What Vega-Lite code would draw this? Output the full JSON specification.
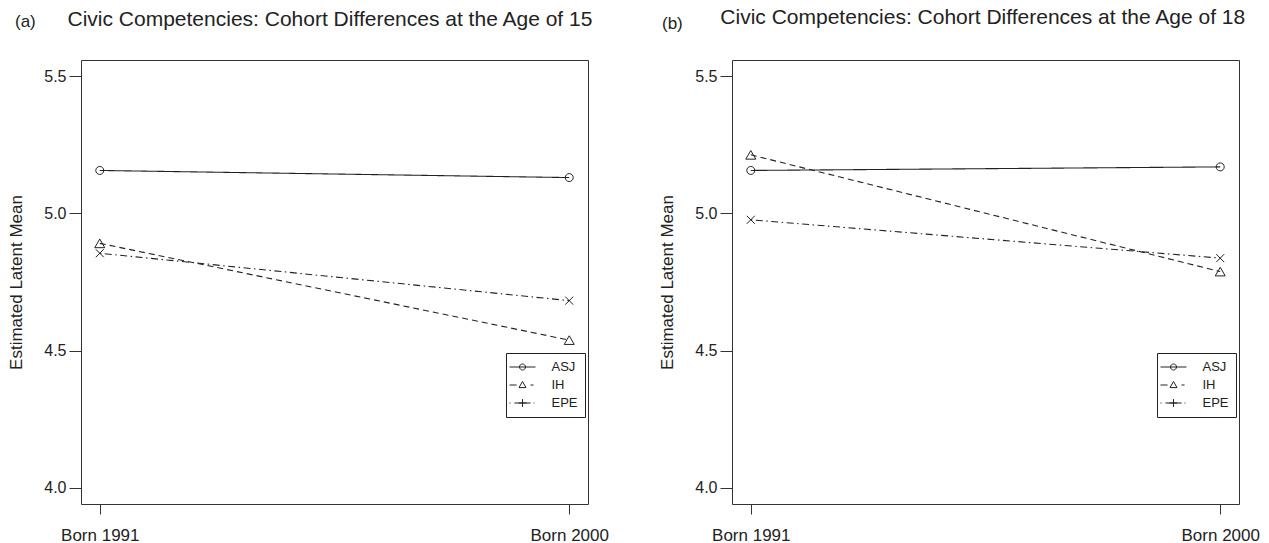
{
  "$schema": "https://vega.github.io/schema/vega-lite/v6.json",
  "padding": {"left": 7, "top": 6, "right": 0, "bottom": 0},
  "background": "white",
  "config": {
    "font": "Liberation Sans",
    "view": {"stroke": "#333", "strokeWidth": 1},
    "axis": {"grid": false, "domain": false, "tickColor": "#333", "labelColor": "#222", "titleColor": "#222", "titleFontWeight": "normal"}
  },
  "datasets": {
    "civic": [
      {"panel": "a", "cohort": "Born 1991", "measure": "ASJ", "mean": 5.157},
      {"panel": "a", "cohort": "Born 2000", "measure": "ASJ", "mean": 5.131},
      {"panel": "a", "cohort": "Born 1991", "measure": "IH", "mean": 4.891},
      {"panel": "a", "cohort": "Born 2000", "measure": "IH", "mean": 4.538},
      {"panel": "a", "cohort": "Born 1991", "measure": "EPE", "mean": 4.855},
      {"panel": "a", "cohort": "Born 2000", "measure": "EPE", "mean": 4.682},
      {"panel": "b", "cohort": "Born 1991", "measure": "ASJ", "mean": 5.157},
      {"panel": "b", "cohort": "Born 2000", "measure": "ASJ", "mean": 5.170},
      {"panel": "b", "cohort": "Born 1991", "measure": "IH", "mean": 5.214},
      {"panel": "b", "cohort": "Born 2000", "measure": "IH", "mean": 4.788},
      {"panel": "b", "cohort": "Born 1991", "measure": "EPE", "mean": 4.977},
      {"panel": "b", "cohort": "Born 2000", "measure": "EPE", "mean": 4.837}
    ]
  },
  "spacing": 49,
  "resolve": {"scale": {"shape": "independent", "strokeDash": "independent"}, "legend": {"shape": "independent", "strokeDash": "independent"}},
  "hconcat": [
    {
      "width": 507, "height": 444,
      "data": {"name": "civic"},
      "transform": [{"filter": "datum.panel === 'a'"}],
      "title": {
        "text": "\u200b\u00a0\u00a0\u00a0\u00a0\u00a0\u00a0\u00a0\u00a0\u00a0Civic Competencies: Cohort Differences at the Age of 15",
        "subtitle": "(a)", "anchor": "start", "frame": "group", "dx": -66,
        "fontSize": 21, "fontWeight": "normal", "color": "#222",
        "subtitleFontSize": 17, "subtitleColor": "#222", "subtitlePadding": -16, "offset": 30
      },
      "encoding": {
        "x": {"field": "cohort", "type": "ordinal", "sort": ["Born 1991", "Born 2000"],
              "scale": {"type": "point", "padding": 0.04},
              "axis": {"title": null, "labelAngle": 0, "labelFontSize": 17, "tickSize": 10, "labelPadding": 13}},
        "y": {"field": "mean", "type": "quantitative",
              "scale": {"domain": [3.94, 5.56], "nice": false, "zero": false},
              "axis": {"values": [4.0, 4.5, 5.0, 5.5], "format": ".1f", "labelFontSize": 16, "tickSize": 12, "labelPadding": 3,
                       "title": "Estimated Latent Mean", "titleFontSize": 17, "titlePadding": 18}}
      },
      "resolve": {"scale": {"shape": "independent"}, "legend": {"shape": "independent"}},
      "layer": [
        {
          "mark": {"type": "line", "stroke": "#222", "strokeWidth": 1.1},
          "encoding": {
            "detail": {"field": "measure"},
            "strokeDash": {"field": "measure", "type": "nominal", "legend": null,
                           "scale": {"range": [[1, 0], [1.5, 3.5, 7, 3.5], [6, 4]]}}
          }
        },
        {
          "mark": {"type": "point", "filled": false, "stroke": "#222", "strokeWidth": 1, "size": 100, "opacity": 1},
          "encoding": {
            "shape": {"field": "measure", "type": "nominal", "legend": null,
                      "scale": {"range": ["M0.8,0A0.8,0.8 0 1,1 -0.8,0A0.8,0.8 0 1,1 0.8,0", "M-0.8,-0.8L0.8,0.8M-0.8,0.8L0.8,-0.8", "triangle-up"]}}
          }
        },
        {
          "mark": {"type": "point", "filled": false, "stroke": "#222", "strokeWidth": 1, "size": 169, "opacity": 0},
          "encoding": {
            "shape": {"field": "measure", "type": "nominal",
                      "scale": {"domain": ["ASJ", "IH", "EPE"],
                                "range": ["M-2,0L2,0M0.46,0A0.46,0.46 0 1,1 -0.46,0A0.46,0.46 0 1,1 0.46,0", "M-2,0L-0.92,0M1.24,0L1.7,0M0,-0.54L0.54,0.4L-0.54,0.4Z", "M-2,0L-1.84,0M-1.24,0L1.24,0M1.7,0L1.84,0M-0.6,0L0.6,0M0,-0.6L0,0.6"]},
                      "legend": {"title": null, "orient": "none", "legendX": 425, "legendY": 293, "padding": 7, "rowPadding": 4,
                                 "fillColor": "white", "strokeColor": "#222", "labelFontSize": 13, "labelColor": "#222",
                                 "symbolSize": 169, "symbolOffset": 2.5, "labelOffset": 22, "symbolStrokeWidth": 1, "symbolStrokeColor": "#222", "symbolFillColor": "transparent", "symbolOpacity": 1, "cornerRadius": 0}}
          }
        }
      ]
    },
    {
      "width": 507, "height": 444,
      "data": {"name": "civic"},
      "transform": [{"filter": "datum.panel === 'b'"}],
      "title": {
        "text": "\u200b\u00a0\u00a0\u00a0\u00a0\u00a0\u00a0\u00a0\u00a0\u00a0\u00a0Civic Competencies: Cohort Differences at the Age of 18",
        "subtitle": "(b)", "anchor": "start", "frame": "group", "dx": -70,
        "fontSize": 21, "fontWeight": "normal", "color": "#222",
        "subtitleFontSize": 17, "subtitleColor": "#222", "subtitlePadding": -12, "offset": 28
      },
      "encoding": {
        "x": {"field": "cohort", "type": "ordinal", "sort": ["Born 1991", "Born 2000"],
              "scale": {"type": "point", "padding": 0.04},
              "axis": {"title": null, "labelAngle": 0, "labelFontSize": 17, "tickSize": 10, "labelPadding": 13}},
        "y": {"field": "mean", "type": "quantitative",
              "scale": {"domain": [3.94, 5.56], "nice": false, "zero": false},
              "axis": {"values": [4.0, 4.5, 5.0, 5.5], "format": ".1f", "labelFontSize": 16, "tickSize": 12, "labelPadding": 3,
                       "title": "Estimated Latent Mean", "titleFontSize": 17, "titlePadding": 18}}
      },
      "resolve": {"scale": {"shape": "independent"}, "legend": {"shape": "independent"}},
      "layer": [
        {
          "mark": {"type": "line", "stroke": "#222", "strokeWidth": 1.1},
          "encoding": {
            "detail": {"field": "measure"},
            "strokeDash": {"field": "measure", "type": "nominal", "legend": null,
                           "scale": {"range": [[1, 0], [1.5, 3.5, 7, 3.5], [6, 4]]}}
          }
        },
        {
          "mark": {"type": "point", "filled": false, "stroke": "#222", "strokeWidth": 1, "size": 100, "opacity": 1},
          "encoding": {
            "shape": {"field": "measure", "type": "nominal", "legend": null,
                      "scale": {"range": ["M0.8,0A0.8,0.8 0 1,1 -0.8,0A0.8,0.8 0 1,1 0.8,0", "M-0.8,-0.8L0.8,0.8M-0.8,0.8L0.8,-0.8", "triangle-up"]}}
          }
        },
        {
          "mark": {"type": "point", "filled": false, "stroke": "#222", "strokeWidth": 1, "size": 169, "opacity": 0},
          "encoding": {
            "shape": {"field": "measure", "type": "nominal",
                      "scale": {"domain": ["ASJ", "IH", "EPE"],
                                "range": ["M-2,0L2,0M0.46,0A0.46,0.46 0 1,1 -0.46,0A0.46,0.46 0 1,1 0.46,0", "M-2,0L-0.92,0M1.24,0L1.7,0M0,-0.54L0.54,0.4L-0.54,0.4Z", "M-2,0L-1.84,0M-1.24,0L1.24,0M1.7,0L1.84,0M-0.6,0L0.6,0M0,-0.6L0,0.6"]},
                      "legend": {"title": null, "orient": "none", "legendX": 425, "legendY": 293, "padding": 7, "rowPadding": 4,
                                 "fillColor": "white", "strokeColor": "#222", "labelFontSize": 13, "labelColor": "#222",
                                 "symbolSize": 169, "symbolOffset": 2.5, "labelOffset": 22, "symbolStrokeWidth": 1, "symbolStrokeColor": "#222", "symbolFillColor": "transparent", "symbolOpacity": 1, "cornerRadius": 0}}
          }
        }
      ]
    }
  ]
}
